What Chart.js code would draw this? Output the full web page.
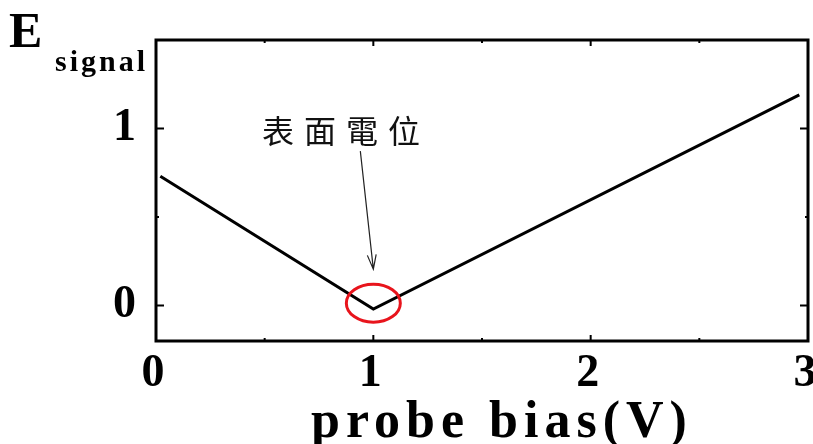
<!DOCTYPE html>
<html>
<head>
<meta charset="utf-8">
<script src="https://cdn.jsdelivr.net/npm/chart.js@4"></script>
<style>
  html, body { margin: 0; padding: 0; background: #fff; }
</style>
</head>
<body>
<canvas id="chart" width="813" height="444"></canvas>
<script>
// data
const biasV = [0.02, 1.0, 2.96];
const signal = [0.73, -0.02, 1.19];
const xTickValues = [0, 1, 2, 3];
const yTickValues = [0, 1];
const minorStep = 0.5;
const markLabel = '表面電位';
const markAt = [1.0, -0.02];

const serif = '"Liberation Serif", "DejaVu Serif", serif';

// frame, inward ticks, labels and the annotation
const decorations = {
  id: 'decorations',
  afterDraw(chart) {
    const ctx = chart.ctx;
    const a = chart.chartArea;
    const xs = chart.scales.x;
    const ys = chart.scales.y;
    ctx.save();

    // box
    ctx.strokeStyle = '#000';
    ctx.lineWidth = 3;
    ctx.strokeRect(a.left, a.top, a.right - a.left, a.bottom - a.top);

    // inward ticks
    ctx.lineWidth = 2;
    for (let v = xs.min; v <= xs.max + 1e-9; v += minorStep) {
      const px = xs.getPixelForValue(v);
      const len = Number.isInteger(v) ? 6 : 3;
      ctx.beginPath();
      ctx.moveTo(px, a.bottom); ctx.lineTo(px, a.bottom - len);
      ctx.moveTo(px, a.top); ctx.lineTo(px, a.top + len);
      ctx.stroke();
    }
    for (let v = 0; v <= ys.max + 1e-9; v += minorStep) {
      const py = ys.getPixelForValue(v);
      const len = Number.isInteger(v) ? 8 : 3;
      ctx.beginPath();
      ctx.moveTo(a.left, py); ctx.lineTo(a.left + len, py);
      ctx.moveTo(a.right, py); ctx.lineTo(a.right - len, py);
      ctx.stroke();
    }

    // red circle and arrow
    const mx = xs.getPixelForValue(markAt[0]);
    const my = ys.getPixelForValue(markAt[1]);
    ctx.strokeStyle = '#e8141c';
    ctx.lineWidth = 3;
    ctx.beginPath();
    ctx.ellipse(mx, my - 6, 27, 19, 0, 0, Math.PI * 2);
    ctx.stroke();

    const tipX = mx, tipY = my - 40;
    const tailX = mx - 13, tailY = my - 158;
    ctx.strokeStyle = '#222';
    ctx.lineWidth = 1.2;
    ctx.beginPath();
    ctx.moveTo(tailX, tailY); ctx.lineTo(tipX, tipY);
    const ang = Math.atan2(tipY - tailY, tipX - tailX);
    ctx.moveTo(tipX - 15 * Math.cos(ang - 0.3), tipY - 15 * Math.sin(ang - 0.3));
    ctx.lineTo(tipX, tipY);
    ctx.lineTo(tipX - 15 * Math.cos(ang + 0.3), tipY - 15 * Math.sin(ang + 0.3));
    ctx.stroke();

    ctx.fillStyle = '#111';
    ctx.font = '32px "Noto Sans CJK TC"';
    ctx.letterSpacing = '10px';
    ctx.textAlign = 'left';
    ctx.textBaseline = 'alphabetic';
    ctx.fillText(markLabel, 262, 143);

    // axis titles
    ctx.fillStyle = '#000';
    ctx.letterSpacing = '0px';
    ctx.font = 'bold 50px ' + serif;
    ctx.fillText('E', 9, 47);
    ctx.letterSpacing = '3px';
    ctx.font = 'bold 30px ' + serif;
    ctx.fillText('signal', 55, 71);
    ctx.letterSpacing = '6px';
    ctx.font = 'bold 52px ' + serif;
    ctx.fillText('probe bias(V)', 311, 437);

    ctx.restore();
  }
};

new Chart(document.getElementById('chart'), {
  type: 'scatter',
  data: {
    datasets: [{
      data: biasV.map((x, i) => ({ x: x, y: signal[i] })),
      showLine: true,
      borderColor: '#000',
      borderWidth: 3,
      pointRadius: 0,
      tension: 0
    }]
  },
  options: {
    responsive: false,
    animation: false,
    devicePixelRatio: 1,
    layout: { padding: { top: 40, right: 5, left: 0, bottom: 0 } },
    plugins: { legend: { display: false }, tooltip: { enabled: false } },
    scales: {
      x: {
        type: 'linear',
        min: 0,
        max: 3,
        afterBuildTicks: s => { s.ticks = xTickValues.map(v => ({ value: v })); },
        afterFit: s => { s.height = 103; s.paddingLeft = 0; s.paddingRight = 0; },
        grid: { display: false, drawTicks: false },
        border: { display: false },
        ticks: {
          color: '#000',
          padding: 6,
          labelOffset: -3,
          maxRotation: 0,
          font: { family: serif, size: 46, weight: 'bold' }
        }
      },
      y: {
        type: 'linear',
        min: -0.2,
        max: 1.5,
        afterBuildTicks: s => { s.ticks = yTickValues.map(v => ({ value: v })); },
        afterFit: s => { s.width = 156; s.paddingTop = 0; s.paddingBottom = 0; },
        grid: { display: false, drawTicks: false },
        border: { display: false },
        ticks: {
          color: '#000',
          padding: 20,
          font: { family: serif, size: 46, weight: 'bold' }
        }
      }
    }
  },
  plugins: [decorations]
});
</script>
</body>
</html>
